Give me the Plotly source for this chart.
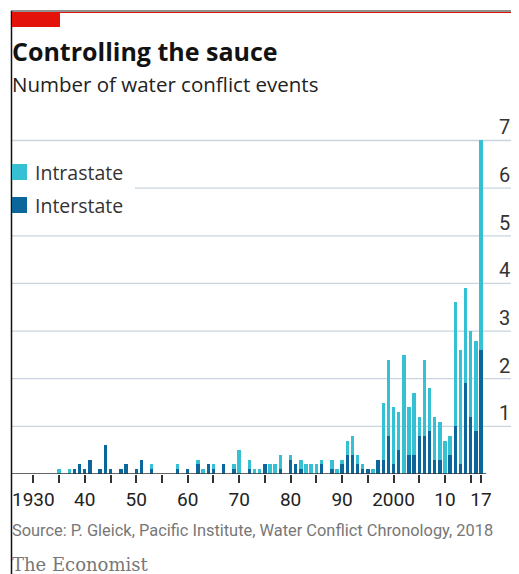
import plotly.graph_objects as go

# ---------------- data ----------------
years = list(range(1930, 2018))

interstate = [
    0, 0, 0, 0, 0, 0, 0, 0, 1, 2,      # 1930s
    1, 3, 0, 1, 6, 1, 0, 1, 2, 0,      # 1940s
    1, 3, 0, 1, 0, 0, 0, 0, 1, 0,      # 1950s
    1, 0, 2, 0, 2, 1, 0, 2, 0, 1,      # 1960s
    0, 0, 1, 0, 0, 2, 0, 0, 1, 0,      # 1970s
    3, 2, 1, 0, 0, 0, 2, 0, 1, 0,      # 1980s
    2, 4, 4, 2, 1, 1, 0, 3, 3, 8,      # 1990s
    2, 5, 0, 4, 4, 8, 8, 9, 3, 3,      # 2000s
    0, 4, 10, 2, 19, 12, 9, 26,        # 2010-2017
]

intrastate = [
    0, 0, 0, 0, 0, 1, 0, 1, 0, 0,      # 1930s
    0, 0, 0, 0, 0, 0, 0, 0, 0, 0,      # 1940s
    0, 0, 0, 1, 0, 0, 0, 0, 1, 0,      # 1950s
    0, 0, 1, 1, 0, 1, 0, 0, 0, 1,      # 1960s
    5, 0, 2, 1, 1, 0, 2, 2, 3, 0,      # 1970s
    1, 0, 2, 2, 2, 2, 1, 0, 2, 1,      # 1980s
    1, 3, 4, 2, 1, 0, 1, 0, 12, 16,    # 1990s
    12, 8, 25, 10, 13, 4, 16, 9, 9, 8, # 2000s
    7, 4, 26, 24, 20, 18, 19, 44,      # 2010-2017
]

y_tick_values = [10, 20, 30, 40, 50, 60, 70]
x_tick_values = [1930, 1935, 1940, 1945, 1950, 1955, 1960, 1965, 1970, 1975,
                 1980, 1985, 1990, 1995, 2000, 2005, 2010, 2015, 2017]
x_tick_labels = ["1930", "", "40", "", "50", "", "60", "", "70", "",
                 "80", "", "90", "", "2000", "", "10", "", "17"]

title_text = "Controlling the sauce"
subtitle_text = "Number of water conflict events"
source_text = "Source: P. Gleick, Pacific Institute, Water Conflict Chronology, 2018"
brand_text = "The Economist"

# ---------------- layout helpers (screen pixel coordinates) ----------------
OFF = 8                     # page body margin
W, H = 519 - OFF, 574 - OFF
L, R, T, B = 12, 519, 120, 474   # plot area on screen


def px(x):
    return (x - L) / (R - L)


def py(y):
    return (B - y) / (B - T)


FONT = "'Open Sans', Roboto, sans-serif"
TICKFONT = "Roboto, 'Open Sans', sans-serif"
CYAN = "#36c0d4"
DARK = "#0b669c"
GRID = "#c9d4de"

fig = go.Figure()
fig.add_bar(x=years, y=interstate, name="Interstate", marker_color=DARK,
            marker_line_width=0)
fig.add_bar(x=years, y=intrastate, name="Intrastate", marker_color=CYAN,
            marker_line_width=0)

shapes = []
for v in y_tick_values:
    shapes.append(dict(type="line", xref="paper", yref="y",
                       x0=px(135) if v == 60 else 0, x1=1.02, y0=v, y1=v,
                       line=dict(color=GRID, width=1.3), layer="below"))
# baseline
shapes.append(dict(type="line", xref="x", yref="y", x0=1925.86, x1=2018.0,
                   y0=0, y1=0, line=dict(color="#333333", width=1.5),
                   layer="above"))
# frame / decorations
shapes.append(dict(type="line", xref="paper", yref="paper",
                   x0=px(11), x1=px(522), y0=py(11), y1=py(11),
                   line=dict(color="#222222", width=1)))
shapes.append(dict(type="line", xref="paper", yref="paper",
                   x0=px(11), x1=px(522), y0=py(12.5), y1=py(12.5),
                   line=dict(color="#e3120b", width=1)))
shapes.append(dict(type="line", xref="paper", yref="paper",
                   x0=px(11.5), x1=px(11.5), y0=py(11), y1=py(580),
                   line=dict(color="#111111", width=1.5)))
shapes.append(dict(type="rect", xref="paper", yref="paper",
                   x0=px(12), x1=px(60), y0=py(12), y1=py(27),
                   fillcolor="#e3120b", line=dict(width=0)))
# legend squares
shapes.append(dict(type="rect", xref="paper", yref="paper",
                   x0=px(12), x1=px(27), y0=py(164), y1=py(180),
                   fillcolor=CYAN, line=dict(width=0)))
shapes.append(dict(type="rect", xref="paper", yref="paper",
                   x0=px(12), x1=px(27), y0=py(197), y1=py(213),
                   fillcolor=DARK, line=dict(width=0)))

annotations = []
for v in y_tick_values:
    annotations.append(dict(xref="paper", yref="y", x=px(497), y=v,
                            xanchor="left", yanchor="bottom", yshift=-1,
                            text=str(v), showarrow=False,
                            font=dict(family=TICKFONT, size=20, color="#333333")))


def txt(text, x, y, size, color, family=FONT, bold=False):
    t = f"<b>{text}</b>" if bold else text
    return dict(xref="paper", yref="paper", x=px(x), y=py(y),
                xanchor="left", yanchor="middle", text=t, showarrow=False,
                font=dict(family=family, size=size, color=color))


annotations.append(txt(title_text, 10, 51, 25, "#121212", bold=True))
annotations.append(txt(subtitle_text, 10, 84, 20.5, "#222222"))
annotations.append(txt("Intrastate", 33, 172, 19.5, "#333333"))
annotations.append(txt("Interstate", 33, 205, 19.5, "#333333"))
annotations.append(txt(source_text, 10, 530, 16.4, "#777777", family=TICKFONT))
annotations.append(txt(brand_text, 10, 564, 18, "#777777",
                       family="'DejaVu Serif', 'Liberation Serif', serif"))

fig.update_layout(
    width=W, height=H,
    margin=dict(l=L - OFF, r=W + OFF - R, t=T - OFF, b=H + OFF - B),
    barmode="stack", bargap=0.33,
    showlegend=False,
    plot_bgcolor="white", paper_bgcolor="white",
    shapes=shapes, annotations=annotations,
    xaxis=dict(range=[1925.86, 2024.38], tickmode="array",
               tickvals=x_tick_values, ticktext=x_tick_labels,
               ticks="outside", ticklen=8, tickwidth=1.5, tickcolor="#333333",
               showgrid=False, zeroline=False, showline=False,
               tickfont=dict(family=TICKFONT, size=19, color="#222222")),
    yaxis=dict(range=[0, 74.3], showticklabels=False, showgrid=False,
               zeroline=False, showline=False),
)

fig.write_html("out.html")
